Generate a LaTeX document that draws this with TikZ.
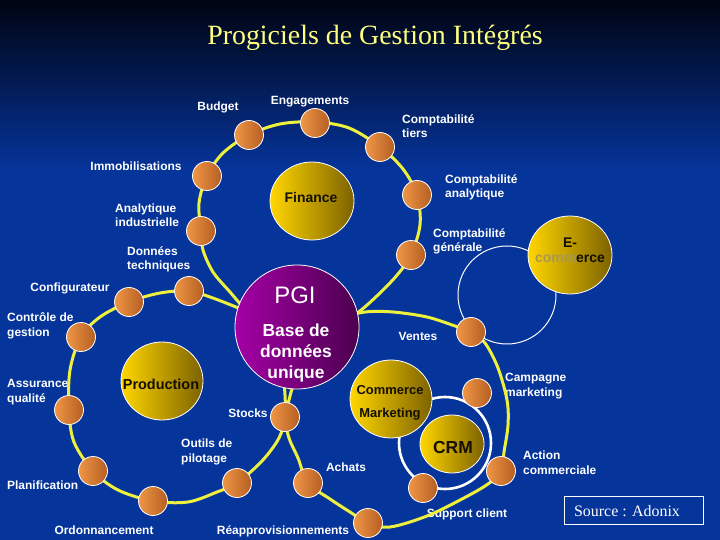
\documentclass[tikz,border=0pt]{standalone}
\usepackage{fontspec}
\setmainfont{Liberation Sans}
\newfontfamily\seriffont{Liberation Serif}
\usetikzlibrary{shapes.geometric}
\definecolor{bgblue}{RGB}{5,52,155}
\definecolor{bgtop}{RGB}{0,4,18}
\definecolor{ringyellow}{RGB}{238,240,62}
\definecolor{dotlight}{RGB}{240,150,70}
\definecolor{dotdark}{RGB}{180,95,35}
\definecolor{yellight}{RGB}{255,214,0}
\definecolor{yeldark}{RGB}{125,98,0}
\definecolor{purplelight}{RGB}{165,0,165}
\definecolor{purpledark}{RGB}{75,0,80}
\definecolor{titleyellow}{RGB}{255,255,125}
\definecolor{commgray}{RGB}{168,152,88}
\definecolor{textblack}{RGB}{20,15,0}
\begin{document}
\begin{tikzpicture}[x=1bp,y=-1bp,
  lbl/.style={text=white, font=\bfseries\fontsize{12}{15}\selectfont, inner sep=0pt},
  lblleft/.style={lbl, align=left, anchor=base west},
  lblc/.style={lbl, anchor=base},
  ringline/.style={draw=ringyellow, line width=3bp},
  dotnode/.style={circle, draw=white, line width=0.8bp, minimum size=29bp, inner sep=0pt, left color=dotlight, right color=dotdark},
  bigyel/.style={ellipse, draw=white, line width=0.8bp, inner sep=0pt, left color=yellight, right color=yeldark},
  intext/.style={text=textblack, inner sep=0pt, anchor=base, align=center}
]
\useasboundingbox (0,0) rectangle (720,540);
% background
\fill[bgblue] (0,170) rectangle (720,540);
\shade[top color=bgtop, bottom color=bgblue] (0,0) rectangle (720,171);

% title
\node[font=\seriffont\fontsize{28}{30}\selectfont, text=titleyellow, anchor=base, inner sep=0pt] (title) at (375,45) {Progiciels de Gestion Intégrés};

% labels (multi-line: anchored at the baseline of the last line)
\node[lblc] (lbudget) at (218,111) {Budget};
\node[lblc] (lengag) at (310,105) {Engagements};
\node[lblleft] (ltiers) at (402,138) {Comptabilité\\tiers};
\node[lblc] (limmo) at (136,171) {Immobilisations};
\node[lblleft] (lanaly) at (445,198) {Comptabilité\\analytique};
\node[lblleft] (lindus) at (115,227) {Analytique\\industrielle};
\node[lblleft] (lgene) at (433,252) {Comptabilité\\générale};
\node[lblleft] (ltech) at (127,270) {Données\\techniques};
\node[lblc] (lconf) at (70,291) {Configurateur};
\node[lblleft] (lcontr) at (7,336) {Contrôle de\\gestion};
\node[lblleft] (lassur) at (7,402) {Assurance\\qualité};
\node[lbl, anchor=base west] (lplan) at (7,489) {Planification};
\node[lblc] (lordo) at (104,534) {Ordonnancement};
\node[lblc] (lreap) at (283,534) {Réapprovisionnements};
\node[lblleft] (loutil) at (181,462) {Outils de\\pilotage};
\node[lblc] (lstock) at (248,417) {Stocks};
\node[lblc] (lachat) at (346,471) {Achats};
\node[lblc] (lvent) at (418,340) {Ventes};
\node[lblleft] (lcamp) at (505,396) {Campagne\\marketing};
\node[lblleft] (lactio) at (523,474) {Action\\commerciale};
\node[lblc] (lsupp) at (467,517) {Support client};

% yellow rings
\draw[ringline] plot[smooth, tension=0.55] coordinates {(262,322) (246,310) (230,292) (213,272) (203,250) (201,231) (199,203) (207,176) (223,153) (249,135) (280,124) (315,122) (349,128) (380,147) (403,169) (417,195) (420,225) (411,255) (398,274) (380,293) (360,311) (340,325)};
\draw[ringline] plot[smooth, tension=0.55] coordinates {(262,318) (236,307) (210,297) (189,291) (160,293) (129,302) (100,317) (81,337) (70,370) (69,410) (74,442) (93,471) (118,490) (153,501) (188,502) (217,492) (237,483) (262,461) (279,438) (285,417) (285,395) (283,372)};
\draw[ringline] plot[smooth, tension=0.55] coordinates {(320,335) (345,318) (365,312) (393,312) (427,317) (455,326) (471,332) (485,343) (498,368) (507,400) (508,425) (504,452) (501,471) (488,484) (462,499) (427,516) (390,527) (368,523) (350,512) (330,499) (308,483) (298,458) (289,438) (285,417) (289,400) (295,380) (305,365)};

% white rings
\draw[white, line width=1bp] (507,295) circle[radius=49];
\draw[white, line width=2.6bp] (445,443) circle[radius=46];

% big circles
\node[circle, draw=white, line width=0.8bp, minimum size=124bp, inner sep=0pt, left color=purplelight, right color=purpledark] (pgi) at (297,327) {};
\node[bigyel, minimum width=84bp, minimum height=78bp] (finance) at (312,201) {};
\node[bigyel, minimum width=82bp, minimum height=78bp] (production) at (162,381) {};
\node[bigyel, minimum width=82bp, minimum height=78bp] (commerce) at (391,399) {};
\node[bigyel, minimum width=64bp, minimum height=58bp] (crm) at (452,444) {};
\node[bigyel, minimum width=84bp, minimum height=78bp] (ecom) at (570,255) {};

% dots
\node[dotnode] (dbudget) at (249,135) {};
\node[dotnode] (dengag) at (315,123) {};
\node[dotnode] (dtiers) at (380,147) {};
\node[dotnode] (dimmo) at (207,176) {};
\node[dotnode] (danaly) at (417,195) {};
\node[dotnode] (dindus) at (201,231) {};
\node[dotnode] (dgene) at (411,255) {};
\node[dotnode] (dtech) at (189,291) {};
\node[dotnode] (dconf) at (129,302) {};
\node[dotnode] (dcontr) at (81,337) {};
\node[dotnode] (dassur) at (69,410) {};
\node[dotnode] (dplan) at (93,471) {};
\node[dotnode] (dordo) at (153,501) {};
\node[dotnode] (doutil) at (237,483) {};
\node[dotnode] (dstock) at (285,417) {};
\node[dotnode] (dachat) at (308,483) {};
\node[dotnode] (dreap) at (368,523) {};
\node[dotnode] (dsupp) at (423,488) {};
\node[dotnode] (dactio) at (501,471) {};
\node[dotnode] (dcamp) at (477,393) {};
\node[dotnode] (dvent) at (471,332) {};

% texts in circles
\node[intext, font=\bfseries\fontsize{14}{16}\selectfont] (tfin) at (311,203) {Finance};
\node[intext, font=\bfseries\fontsize{14.5}{16}\selectfont] (tprod) at (161,389) {Production};
\node[intext, font=\bfseries\fontsize{13}{23}\selectfont] (tcom) at (390,417) {Commerce\\Marketing};
\node[intext, font=\bfseries\fontsize{17.5}{20}\selectfont] (tcrm) at (453,453) {CRM};
\node[intext, font=\bfseries\fontsize{14}{16}\selectfont] (tecom) at (570,263) {E-\\{\color{commgray}comm}erce};
\node[inner sep=0pt, anchor=base, text=white, font=\fontsize{24}{26}\selectfont] (tpgi) at (295,303) {PGI};
\node[inner sep=0pt, anchor=base, align=center, text=white, font=\bfseries\fontsize{17.5}{21}\selectfont] (tbase) at (296,378) {Base de\\données\\unique};

% source box
\node[draw=white, line width=1bp, minimum width=139bp, minimum height=28bp, inner sep=0pt] (srcbox) at (633.5,510) {};
\node[inner sep=0pt, anchor=base, text=white, font=\seriffont\fontsize{16}{18}\selectfont] (src) at (627,516) {Source : Adonix};
\end{tikzpicture}
\end{document}
